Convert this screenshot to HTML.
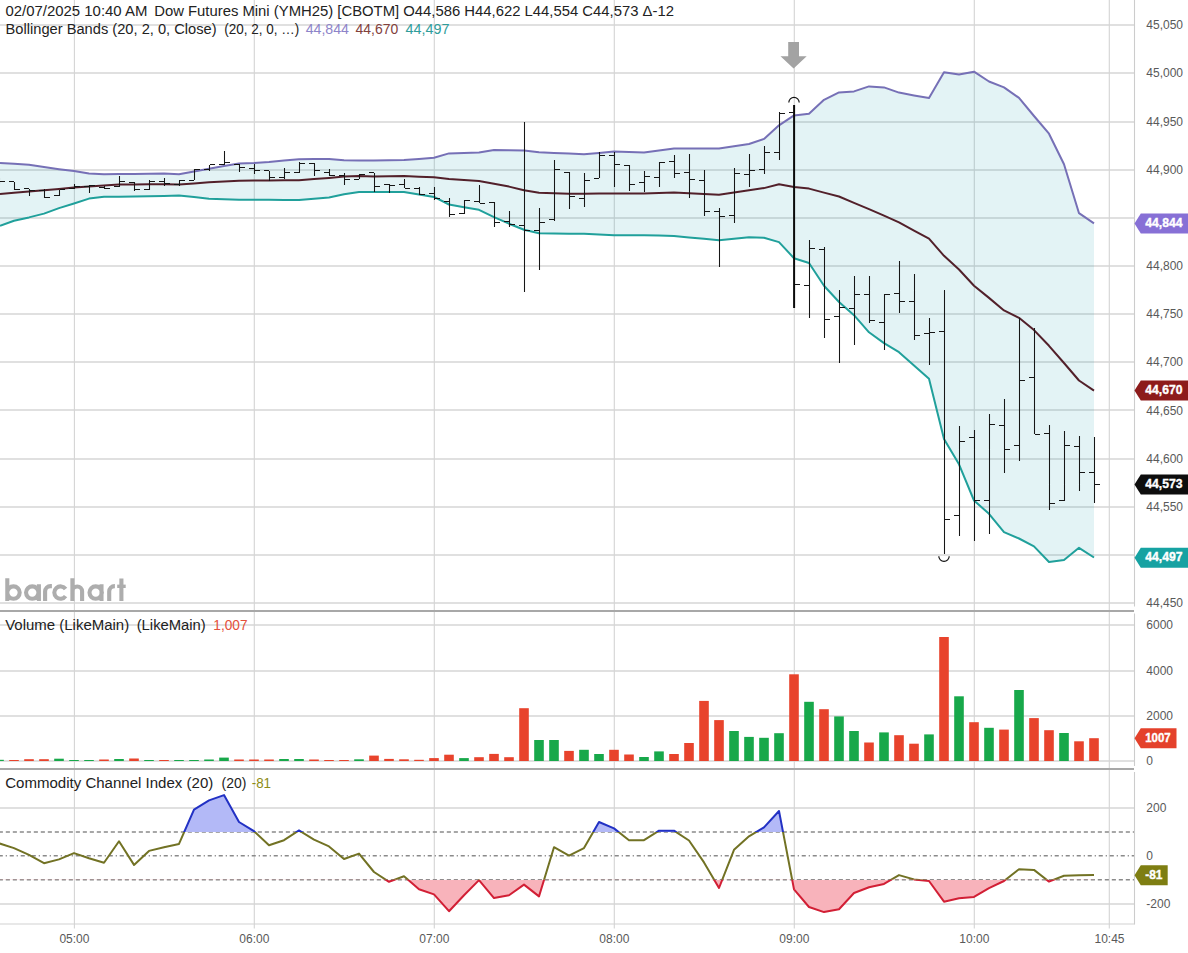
<!DOCTYPE html>
<html><head><meta charset="utf-8"><style>
html,body{margin:0;padding:0;background:#fff;width:1188px;height:953px;overflow:hidden}
</style></head><body>
<svg width="1188" height="953" viewBox="0 0 1188 953" style="display:block">
<rect width="1188" height="953" fill="#ffffff"/>
<rect x="0" y="24" width="1134" height="2" fill="#e0e0e0"/>
<rect x="0" y="72" width="1134" height="2" fill="#e0e0e0"/>
<rect x="0" y="121" width="1134" height="2" fill="#e0e0e0"/>
<rect x="0" y="169" width="1134" height="2" fill="#e0e0e0"/>
<rect x="0" y="217" width="1134" height="2" fill="#e0e0e0"/>
<rect x="0" y="265" width="1134" height="2" fill="#e0e0e0"/>
<rect x="0" y="313" width="1134" height="2" fill="#e0e0e0"/>
<rect x="0" y="361" width="1134" height="2" fill="#e0e0e0"/>
<rect x="0" y="409" width="1134" height="2" fill="#e0e0e0"/>
<rect x="0" y="458" width="1134" height="2" fill="#e0e0e0"/>
<rect x="0" y="506" width="1134" height="2" fill="#e0e0e0"/>
<rect x="0" y="554" width="1134" height="2" fill="#e0e0e0"/>
<rect x="0" y="602" width="1134" height="2" fill="#e0e0e0"/>
<rect x="0" y="624" width="1134" height="2" fill="#e0e0e0"/>
<rect x="0" y="670" width="1134" height="2" fill="#e0e0e0"/>
<rect x="0" y="715" width="1134" height="2" fill="#e0e0e0"/>
<rect x="0" y="760" width="1134" height="2" fill="#e0e0e0"/>
<rect x="0" y="807" width="1134" height="2" fill="#e0e0e0"/>
<rect x="0" y="903" width="1134" height="2" fill="#e0e0e0"/>
<line x1="74.4" y1="0" x2="74.4" y2="928.5" stroke="#d4d4d4" stroke-width="1.1"/>
<line x1="254.3" y1="0" x2="254.3" y2="928.5" stroke="#d4d4d4" stroke-width="1.1"/>
<line x1="434.3" y1="0" x2="434.3" y2="928.5" stroke="#d4d4d4" stroke-width="1.1"/>
<line x1="614.3" y1="0" x2="614.3" y2="928.5" stroke="#d4d4d4" stroke-width="1.1"/>
<line x1="794.3" y1="0" x2="794.3" y2="928.5" stroke="#d4d4d4" stroke-width="1.1"/>
<line x1="974.3" y1="0" x2="974.3" y2="928.5" stroke="#d4d4d4" stroke-width="1.1"/>
<line x1="1109.3" y1="0" x2="1109.3" y2="928.5" stroke="#d4d4d4" stroke-width="1.1"/>
<polygon points="0.0,162.9 14.0,163.7 29.0,164.8 44.0,167.0 59.0,169.2 74.0,171.1 89.0,173.5 104.0,174.3 119.0,173.9 134.0,173.9 149.0,173.7 164.0,173.5 179.0,174.3 194.0,171.6 209.0,168.8 224.0,166.1 239.0,163.4 254.0,162.9 269.0,161.9 284.0,160.5 299.0,159.2 314.0,159.1 329.0,158.9 344.0,160.2 359.0,160.5 374.0,160.4 389.0,160.2 404.0,160.0 419.0,158.9 434.0,157.8 449.0,153.4 464.0,152.9 479.0,152.5 494.0,150.0 509.0,150.3 524.0,150.6 539.0,152.3 554.0,152.9 569.0,153.5 584.0,154.3 599.0,152.9 614.0,151.5 629.0,152.0 644.0,152.5 659.0,150.4 674.0,148.4 689.0,148.4 704.0,148.4 719.0,148.4 734.0,146.2 749.0,144.0 764.0,138.9 779.0,125.3 794.0,115.4 809.0,113.7 824.0,99.8 839.0,92.4 854.0,91.4 869.0,86.4 884.0,87.4 899.0,92.6 914.0,95.4 929.0,97.9 944.0,72.3 959.0,74.4 974.0,71.7 989.0,81.5 1004.0,87.4 1019.0,97.9 1034.0,116.0 1049.0,133.7 1064.0,164.2 1079.0,213.2 1094.0,223.3 1094.0,557.5 1079.0,547.8 1064.0,560.0 1049.0,562.0 1034.0,546.4 1019.0,538.5 1004.0,532.2 989.0,513.8 974.0,500.5 959.0,464.3 944.0,439.0 929.0,378.7 914.0,365.4 899.0,352.2 884.0,343.1 869.0,332.3 854.0,315.2 839.0,302.0 824.0,285.8 809.0,263.0 794.0,258.2 779.0,242.1 764.0,237.7 749.0,237.2 734.0,238.8 719.0,240.3 704.0,238.8 689.0,237.4 674.0,235.9 659.0,235.6 644.0,235.3 629.0,235.3 614.0,235.3 599.0,234.5 584.0,233.7 569.0,233.7 554.0,233.5 539.0,233.3 524.0,229.7 509.0,223.7 494.0,217.1 479.0,209.8 464.0,207.2 449.0,204.5 434.0,196.9 419.0,194.4 404.0,191.9 389.0,192.0 374.0,192.1 359.0,192.0 344.0,194.3 329.0,197.4 314.0,198.7 299.0,200.0 284.0,199.9 269.0,199.8 254.0,199.7 239.0,199.7 224.0,199.2 209.0,198.7 194.0,197.1 179.0,195.6 164.0,196.0 149.0,196.3 134.0,196.6 119.0,196.7 104.0,196.8 89.0,198.6 74.0,203.5 59.0,208.1 44.0,213.6 29.0,217.4 14.0,220.7 0.0,225.8" fill="rgb(0,150,165)" fill-opacity="0.11"/>
<line x1="0" y1="831.9" x2="1134" y2="831.9" stroke="#8a8a8a" stroke-width="1.5" stroke-dasharray="4.1,2.9" stroke-dashoffset="1.2"/>
<line x1="0" y1="879.7" x2="1134" y2="879.7" stroke="#8a8a8a" stroke-width="1.5" stroke-dasharray="4.1,2.9" stroke-dashoffset="1.2"/>
<line x1="0" y1="855.8" x2="1134" y2="855.8" stroke="#8a8a8a" stroke-width="1.5" stroke-dasharray="4.1,2.9,1.2,2.8" stroke-dashoffset="1.3"/>
<polyline points="0.0,162.9 14.0,163.7 29.0,164.8 44.0,167.0 59.0,169.2 74.0,171.1 89.0,173.5 104.0,174.3 119.0,173.9 134.0,173.9 149.0,173.7 164.0,173.5 179.0,174.3 194.0,171.6 209.0,168.8 224.0,166.1 239.0,163.4 254.0,162.9 269.0,161.9 284.0,160.5 299.0,159.2 314.0,159.1 329.0,158.9 344.0,160.2 359.0,160.5 374.0,160.4 389.0,160.2 404.0,160.0 419.0,158.9 434.0,157.8 449.0,153.4 464.0,152.9 479.0,152.5 494.0,150.0 509.0,150.3 524.0,150.6 539.0,152.3 554.0,152.9 569.0,153.5 584.0,154.3 599.0,152.9 614.0,151.5 629.0,152.0 644.0,152.5 659.0,150.4 674.0,148.4 689.0,148.4 704.0,148.4 719.0,148.4 734.0,146.2 749.0,144.0 764.0,138.9 779.0,125.3 794.0,115.4 809.0,113.7 824.0,99.8 839.0,92.4 854.0,91.4 869.0,86.4 884.0,87.4 899.0,92.6 914.0,95.4 929.0,97.9 944.0,72.3 959.0,74.4 974.0,71.7 989.0,81.5 1004.0,87.4 1019.0,97.9 1034.0,116.0 1049.0,133.7 1064.0,164.2 1079.0,213.2 1094.0,223.3" fill="none" stroke="#7670b6" stroke-width="2" stroke-linejoin="round"/>
<polyline points="0.0,225.8 14.0,220.7 29.0,217.4 44.0,213.6 59.0,208.1 74.0,203.5 89.0,198.6 104.0,196.8 119.0,196.7 134.0,196.6 149.0,196.3 164.0,196.0 179.0,195.6 194.0,197.1 209.0,198.7 224.0,199.2 239.0,199.7 254.0,199.7 269.0,199.8 284.0,199.9 299.0,200.0 314.0,198.7 329.0,197.4 344.0,194.3 359.0,192.0 374.0,192.1 389.0,192.0 404.0,191.9 419.0,194.4 434.0,196.9 449.0,204.5 464.0,207.2 479.0,209.8 494.0,217.1 509.0,223.7 524.0,229.7 539.0,233.3 554.0,233.5 569.0,233.7 584.0,233.7 599.0,234.5 614.0,235.3 629.0,235.3 644.0,235.3 659.0,235.6 674.0,235.9 689.0,237.4 704.0,238.8 719.0,240.3 734.0,238.8 749.0,237.2 764.0,237.7 779.0,242.1 794.0,258.2 809.0,263.0 824.0,285.8 839.0,302.0 854.0,315.2 869.0,332.3 884.0,343.1 899.0,352.2 914.0,365.4 929.0,378.7 944.0,439.0 959.0,464.3 974.0,500.5 989.0,513.8 1004.0,532.2 1019.0,538.5 1034.0,546.4 1049.0,562.0 1064.0,560.0 1079.0,547.8 1094.0,557.5" fill="none" stroke="#20a09b" stroke-width="2" stroke-linejoin="round"/>
<polyline points="0.0,193.9 14.0,192.7 29.0,191.4 44.0,190.2 59.0,188.9 74.0,187.6 89.0,186.6 104.0,185.5 119.0,184.5 134.0,184.4 149.0,184.3 164.0,184.2 179.0,184.4 194.0,183.4 209.0,182.3 224.0,181.5 239.0,180.7 254.0,180.6 269.0,180.4 284.0,180.3 299.0,180.2 314.0,179.1 329.0,177.9 344.0,176.6 359.0,176.0 374.0,176.4 389.0,176.3 404.0,176.1 419.0,176.7 434.0,177.3 449.0,179.0 464.0,180.1 479.0,181.1 494.0,183.7 509.0,186.6 524.0,190.2 539.0,192.8 554.0,193.3 569.0,193.8 584.0,193.7 599.0,193.5 614.0,193.4 629.0,193.5 644.0,193.6 659.0,193.1 674.0,192.5 689.0,193.2 704.0,194.0 719.0,194.7 734.0,192.5 749.0,190.3 764.0,188.1 779.0,184.3 794.0,187.0 809.0,188.6 824.0,192.6 839.0,196.5 854.0,202.8 869.0,209.1 884.0,215.7 899.0,222.4 914.0,230.6 929.0,238.7 944.0,255.8 959.0,269.5 974.0,285.7 989.0,297.9 1004.0,310.4 1019.0,317.8 1034.0,330.1 1049.0,345.8 1064.0,363.0 1079.0,380.5 1094.0,390.6" fill="none" stroke="#52202a" stroke-width="2" stroke-linejoin="round"/>
<path d="M794.1,105V308" stroke="#0a0a0a" stroke-width="2" fill="none"/>
<path d="M-0.5,178V184M-6,182.5H-1M0,181.5H5M14.5,182V190M9,181.5H14M15,189.5H20M29.5,189V196M24,188.5H29M30,190.5H35M44.5,189V198M39,190.5H44M45,197.5H50M59.5,190V196M54,195.5H59M60,189.5H65M74.5,184V189M69,188.5H74M75,186.5H80M89.5,185V193M84,186.5H89M90,185.5H95M104.5,186V189M99,187.5H104M105,188.5H110M119.5,176V187M114,186.5H119M120,181.5H125M134.5,182V191M129,182.5H134M135,189.5H140M149.5,180V190M144,189.5H149M150,181.5H155M164.5,178V186M159,181.5H164M165,183.5H170M179.5,180V186M174,184.5H179M180,180.5H185M194.5,169V180M189,180.5H194M195,169.5H200M209.5,165V171M204,169.5H209M210,164.5H215M224.5,151V165M219,164.5H224M225,162.5H230M239.5,164V172M234,164.5H239M240,167.5H245M254.5,164V174M249,168.5H254M255,170.5H260M269.5,171V181M264,170.5H269M270,177.5H275M284.5,168V179M279,177.5H284M285,172.5H290M299.5,162V173M294,172.5H299M300,163.5H305M314.5,163V176M309,163.5H314M315,170.5H320M329.5,169V176M324,172.5H329M330,175.5H335M344.5,173V185M339,175.5H344M345,179.5H350M359.5,174V179M354,179.5H359M360,174.5H365M374.5,173V192M369,172.5H374M375,186.5H380M389.5,184V193M384,184.5H389M390,185.5H395M404.5,179V188M399,184.5H404M405,188.5H410M419.5,187V195M414,188.5H419M420,194.5H425M434.5,187V200M429,193.5H434M435,198.5H440M449.5,198V217M444,201.5H449M450,214.5H455M464.5,200V214M459,213.5H464M465,200.5H470M479.5,185V203M474,201.5H479M480,203.5H485M494.5,202V227M489,202.5H494M495,222.5H500M509.5,211V227M504,221.5H509M510,224.5H515M524.5,122V292M519,225.5H524M525,230.5H530M539.5,208V270M534,230.5H539M540,222.5H545M554.5,160V221M549,219.5H554M555,169.5H560M569.5,172V209M564,172.5H569M570,196.5H575M584.5,173V207M579,198.5H584M585,180.5H590M599.5,152V178M594,178.5H599M600,155.5H605M614.5,152V187M609,155.5H614M615,164.5H620M629.5,165V191M624,165.5H629M630,184.5H635M644.5,171V192M639,182.5H644M645,176.5H650M659.5,162V187M654,177.5H659M660,162.5H665M674.5,155V178M669,161.5H674M675,173.5H680M689.5,154V198M684,172.5H689M690,179.5H695M704.5,170V216M699,180.5H704M705,211.5H710M719.5,208V267M714,211.5H719M720,216.5H725M734.5,168V223M729,215.5H734M735,173.5H740M749.5,154V187M744,174.5H749M750,170.5H755M764.5,146V174M759,169.5H764M765,152.5H770M779.5,112V160M774,152.5H779M780,113.5H785M789,112.5H794M795,284.5H800M809.5,240V318M804,285.5H809M810,248.5H815M824.5,247V338M819,249.5H824M825,319.5H830M839.5,290V363M834,316.5H839M840,307.5H845M854.5,276V345M849,308.5H854M855,294.5H860M869.5,276V323M864,294.5H869M870,320.5H875M884.5,294V350M879,322.5H884M885,294.5H890M899.5,261V313M894,293.5H899M900,301.5H905M914.5,274V340M909,301.5H914M915,335.5H920M929.5,318V365M924,333.5H929M930,332.5H935M944.5,290V554M939,331.5H944M945,519.5H950M959.5,426V536M954,515.5H959M960,441.5H965M974.5,430V541M969,437.5H974M975,500.5H980M989.5,414V534M984,500.5H989M990,424.5H995M1004.5,399V473M999,425.5H1004M1005,449.5H1010M1019.5,318V461M1014,445.5H1019M1020,380.5H1025M1034.5,328V434M1029,377.5H1034M1035,434.5H1040M1049.5,425V510M1044,433.5H1049M1050,503.5H1055M1064.5,431V501M1059,500.5H1064M1065,445.5H1070M1079.5,436V491M1074,446.5H1079M1080,472.5H1085M1094.5,437V503M1089,472.5H1094M1095,484.5H1100" stroke="#161616" stroke-width="1.05" fill="none"/>
<path d="M788.8,102.6 A5.2,5.2 0 0 1 799.2,102.6" fill="none" stroke="#111" stroke-width="1.2"/>
<path d="M938.8,556.2 A5.2,5.2 0 0 0 949.2,556.2" fill="none" stroke="#111" stroke-width="1.2"/>
<path d="M788.2,42 H799 V56.2 H806.7 L793.6,68.5 L780.5,56.2 H788.2 Z" fill="#a3a3a3"/>
<path d="M7.3,578.2V601 M13.5,592.6m-6.2,0a6.2,6.2 0 1,0 12.4,0a6.2,6.2 0 1,0 -12.4,0 M32.25,592.6m-6.2,0a6.2,6.2 0 1,0 12.4,0a6.2,6.2 0 1,0 -12.4,0 M38.9,584.3V601 M45.1,601V591.5A5.4,5.4 0 0 1 50.5,586.1H51.9 M65.58,589.04A6.2,6.2 0 1 0 65.58,596.16 M72.4,578.2V601 M72.4,601V591.35A4.85,4.85 0 0 1 82.1,591.35V601 M95.7,592.6m-6.2,0a6.2,6.2 0 1,0 12.4,0a6.2,6.2 0 1,0 -12.4,0 M101.5,584.3V601 M109.2,601V591.5A5.4,5.4 0 0 1 114.6,586.1H114.9 M121.4,578.5V601" fill="none" stroke="#adadad" stroke-width="4.1"/>
<path d="M117.2,586.3H125.7" fill="none" stroke="#adadad" stroke-width="3.4"/>
<rect x="0" y="610" width="1134" height="2" fill="#a8a8a8"/>
<rect x="0" y="768" width="1134" height="2" fill="#a8a8a8"/>
<line x1="0" y1="924" x2="1134.5" y2="924" stroke="#d2d2d2" stroke-width="1.2"/>
<path d="M1134.5,0V606.5M1134.5,613.5V766M1134.5,772V924.5" stroke="#cccccc" stroke-width="1.1"/>
<rect x="-5.8" y="759.8" width="9.6" height="1.2" fill="#17a84a"/>
<rect x="9.2" y="760.0" width="9.6" height="1.0" fill="#e8432c"/>
<rect x="24.2" y="759.2" width="9.6" height="1.8" fill="#e8432c"/>
<rect x="39.2" y="759.2" width="9.6" height="1.8" fill="#e8432c"/>
<rect x="54.2" y="758.7" width="9.6" height="2.3" fill="#17a84a"/>
<rect x="69.2" y="760.0" width="9.6" height="1.0" fill="#17a84a"/>
<rect x="84.2" y="760.0" width="9.6" height="1.0" fill="#17a84a"/>
<rect x="99.2" y="759.5" width="9.6" height="1.5" fill="#e8432c"/>
<rect x="114.2" y="759.0" width="9.6" height="2.0" fill="#17a84a"/>
<rect x="129.2" y="758.5" width="9.6" height="2.5" fill="#e8432c"/>
<rect x="144.2" y="760.0" width="9.6" height="1.0" fill="#17a84a"/>
<rect x="159.2" y="760.0" width="9.6" height="1.0" fill="#e8432c"/>
<rect x="174.2" y="760.0" width="9.6" height="1.0" fill="#17a84a"/>
<rect x="189.2" y="760.0" width="9.6" height="1.0" fill="#17a84a"/>
<rect x="204.2" y="759.5" width="9.6" height="1.5" fill="#17a84a"/>
<rect x="219.2" y="757.6" width="9.6" height="3.4" fill="#17a84a"/>
<rect x="234.2" y="759.5" width="9.6" height="1.5" fill="#e8432c"/>
<rect x="249.2" y="759.5" width="9.6" height="1.5" fill="#e8432c"/>
<rect x="264.2" y="759.5" width="9.6" height="1.5" fill="#e8432c"/>
<rect x="279.2" y="759.0" width="9.6" height="2.0" fill="#17a84a"/>
<rect x="294.2" y="759.0" width="9.6" height="2.0" fill="#17a84a"/>
<rect x="309.2" y="759.5" width="9.6" height="1.5" fill="#e8432c"/>
<rect x="324.2" y="760.0" width="9.6" height="1.0" fill="#e8432c"/>
<rect x="339.2" y="760.0" width="9.6" height="1.0" fill="#e8432c"/>
<rect x="354.2" y="759.3" width="9.6" height="1.7" fill="#17a84a"/>
<rect x="369.2" y="755.6" width="9.6" height="5.4" fill="#e8432c"/>
<rect x="384.2" y="758.9" width="9.6" height="2.1" fill="#e8432c"/>
<rect x="399.2" y="759.3" width="9.6" height="1.7" fill="#e8432c"/>
<rect x="414.2" y="759.8" width="9.6" height="1.2" fill="#e8432c"/>
<rect x="429.2" y="758.1" width="9.6" height="2.9" fill="#e8432c"/>
<rect x="444.2" y="754.7" width="9.6" height="6.3" fill="#e8432c"/>
<rect x="459.2" y="758.1" width="9.6" height="2.9" fill="#17a84a"/>
<rect x="474.2" y="757.2" width="9.6" height="3.8" fill="#e8432c"/>
<rect x="489.2" y="753.9" width="9.6" height="7.1" fill="#e8432c"/>
<rect x="504.2" y="757.2" width="9.6" height="3.8" fill="#e8432c"/>
<rect x="519.2" y="708.2" width="9.6" height="52.8" fill="#e8432c"/>
<rect x="534.2" y="740.0" width="9.6" height="21.0" fill="#17a84a"/>
<rect x="549.2" y="740.0" width="9.6" height="21.0" fill="#17a84a"/>
<rect x="564.2" y="750.9" width="9.6" height="10.1" fill="#e8432c"/>
<rect x="579.2" y="749.8" width="9.6" height="11.2" fill="#17a84a"/>
<rect x="594.2" y="754.0" width="9.6" height="7.0" fill="#17a84a"/>
<rect x="609.2" y="749.8" width="9.6" height="11.2" fill="#e8432c"/>
<rect x="624.2" y="754.5" width="9.6" height="6.5" fill="#e8432c"/>
<rect x="639.2" y="757.0" width="9.6" height="4.0" fill="#17a84a"/>
<rect x="654.2" y="751.4" width="9.6" height="9.6" fill="#17a84a"/>
<rect x="669.2" y="754.0" width="9.6" height="7.0" fill="#e8432c"/>
<rect x="684.2" y="743.0" width="9.6" height="18.0" fill="#e8432c"/>
<rect x="699.2" y="700.9" width="9.6" height="60.1" fill="#e8432c"/>
<rect x="714.2" y="720.1" width="9.6" height="40.9" fill="#e8432c"/>
<rect x="729.2" y="731.0" width="9.6" height="30.0" fill="#17a84a"/>
<rect x="744.2" y="736.9" width="9.6" height="24.1" fill="#17a84a"/>
<rect x="759.2" y="737.8" width="9.6" height="23.2" fill="#17a84a"/>
<rect x="774.2" y="733.2" width="9.6" height="27.8" fill="#17a84a"/>
<rect x="789.2" y="674.3" width="9.6" height="86.7" fill="#e8432c"/>
<rect x="804.2" y="701.8" width="9.6" height="59.2" fill="#17a84a"/>
<rect x="819.2" y="709.2" width="9.6" height="51.8" fill="#e8432c"/>
<rect x="834.2" y="716.4" width="9.6" height="44.6" fill="#17a84a"/>
<rect x="849.2" y="731.0" width="9.6" height="30.0" fill="#17a84a"/>
<rect x="864.2" y="742.5" width="9.6" height="18.5" fill="#e8432c"/>
<rect x="879.2" y="732.4" width="9.6" height="28.6" fill="#17a84a"/>
<rect x="894.2" y="735.2" width="9.6" height="25.8" fill="#e8432c"/>
<rect x="909.2" y="743.7" width="9.6" height="17.3" fill="#e8432c"/>
<rect x="924.2" y="734.4" width="9.6" height="26.6" fill="#17a84a"/>
<rect x="939.2" y="637.0" width="9.6" height="124.0" fill="#e8432c"/>
<rect x="954.2" y="696.3" width="9.6" height="64.7" fill="#17a84a"/>
<rect x="969.2" y="722.2" width="9.6" height="38.8" fill="#e8432c"/>
<rect x="984.2" y="727.8" width="9.6" height="33.2" fill="#17a84a"/>
<rect x="999.2" y="729.6" width="9.6" height="31.4" fill="#e8432c"/>
<rect x="1014.2" y="690.0" width="9.6" height="71.0" fill="#17a84a"/>
<rect x="1029.2" y="718.1" width="9.6" height="42.9" fill="#e8432c"/>
<rect x="1044.2" y="730.2" width="9.6" height="30.8" fill="#e8432c"/>
<rect x="1059.2" y="733.0" width="9.6" height="28.0" fill="#17a84a"/>
<rect x="1074.2" y="741.3" width="9.6" height="19.7" fill="#e8432c"/>
<rect x="1089.2" y="738.2" width="9.6" height="22.8" fill="#e8432c"/>
<defs><clipPath id="cAbove"><rect x="0" y="780" width="1134" height="51.9"/></clipPath><clipPath id="cBelow"><rect x="0" y="879.7" width="1134" height="44.3"/></clipPath><clipPath id="cMid"><rect x="0" y="831.9" width="1134" height="47.8"/></clipPath></defs>
<polygon points="-1.0,843.3 14.0,848.1 29.0,854.8 44.0,863.2 59.0,859.4 74.0,853.1 89.0,858.2 104.0,862.7 119.0,841.3 134.0,864.9 149.0,850.9 164.0,847.2 179.0,843.9 194.0,809.6 209.0,800.4 224.0,795.1 239.0,822.0 254.0,831.2 269.0,845.2 284.0,840.2 299.0,830.4 314.0,839.7 329.0,846.4 344.0,859.0 359.0,853.6 374.0,872.0 389.0,881.8 404.0,876.2 419.0,889.3 434.0,894.4 449.0,911.2 464.0,895.2 479.0,880.1 494.0,898.1 509.0,895.2 524.0,884.6 539.0,896.4 554.0,847.2 569.0,855.7 584.0,848.1 599.0,822.0 614.0,828.4 629.0,840.2 644.0,840.2 659.0,830.7 674.0,830.7 689.0,840.5 704.0,862.4 719.0,888.0 734.0,849.8 749.0,836.3 764.0,827.4 779.0,811.0 794.0,889.3 809.0,907.0 824.0,912.1 839.0,909.2 854.0,893.0 869.0,887.3 884.0,883.9 899.0,875.1 914.0,879.4 929.0,881.0 944.0,901.7 959.0,898.2 974.0,896.9 989.0,888.1 1004.0,881.0 1019.0,869.2 1034.0,869.9 1049.0,881.6 1064.0,875.7 1079.0,875.2 1094.0,874.9 1094,831.9 -1,831.9" fill="#b3b9f7" clip-path="url(#cAbove)"/>
<polygon points="-1.0,843.3 14.0,848.1 29.0,854.8 44.0,863.2 59.0,859.4 74.0,853.1 89.0,858.2 104.0,862.7 119.0,841.3 134.0,864.9 149.0,850.9 164.0,847.2 179.0,843.9 194.0,809.6 209.0,800.4 224.0,795.1 239.0,822.0 254.0,831.2 269.0,845.2 284.0,840.2 299.0,830.4 314.0,839.7 329.0,846.4 344.0,859.0 359.0,853.6 374.0,872.0 389.0,881.8 404.0,876.2 419.0,889.3 434.0,894.4 449.0,911.2 464.0,895.2 479.0,880.1 494.0,898.1 509.0,895.2 524.0,884.6 539.0,896.4 554.0,847.2 569.0,855.7 584.0,848.1 599.0,822.0 614.0,828.4 629.0,840.2 644.0,840.2 659.0,830.7 674.0,830.7 689.0,840.5 704.0,862.4 719.0,888.0 734.0,849.8 749.0,836.3 764.0,827.4 779.0,811.0 794.0,889.3 809.0,907.0 824.0,912.1 839.0,909.2 854.0,893.0 869.0,887.3 884.0,883.9 899.0,875.1 914.0,879.4 929.0,881.0 944.0,901.7 959.0,898.2 974.0,896.9 989.0,888.1 1004.0,881.0 1019.0,869.2 1034.0,869.9 1049.0,881.6 1064.0,875.7 1079.0,875.2 1094.0,874.9 1094,879.7 -1,879.7" fill="#f8b3bb" clip-path="url(#cBelow)"/>
<polyline points="-1.0,843.3 14.0,848.1 29.0,854.8 44.0,863.2 59.0,859.4 74.0,853.1 89.0,858.2 104.0,862.7 119.0,841.3 134.0,864.9 149.0,850.9 164.0,847.2 179.0,843.9 194.0,809.6 209.0,800.4 224.0,795.1 239.0,822.0 254.0,831.2 269.0,845.2 284.0,840.2 299.0,830.4 314.0,839.7 329.0,846.4 344.0,859.0 359.0,853.6 374.0,872.0 389.0,881.8 404.0,876.2 419.0,889.3 434.0,894.4 449.0,911.2 464.0,895.2 479.0,880.1 494.0,898.1 509.0,895.2 524.0,884.6 539.0,896.4 554.0,847.2 569.0,855.7 584.0,848.1 599.0,822.0 614.0,828.4 629.0,840.2 644.0,840.2 659.0,830.7 674.0,830.7 689.0,840.5 704.0,862.4 719.0,888.0 734.0,849.8 749.0,836.3 764.0,827.4 779.0,811.0 794.0,889.3 809.0,907.0 824.0,912.1 839.0,909.2 854.0,893.0 869.0,887.3 884.0,883.9 899.0,875.1 914.0,879.4 929.0,881.0 944.0,901.7 959.0,898.2 974.0,896.9 989.0,888.1 1004.0,881.0 1019.0,869.2 1034.0,869.9 1049.0,881.6 1064.0,875.7 1079.0,875.2 1094.0,874.9" fill="none" stroke="#727224" stroke-width="2" stroke-linejoin="round" clip-path="url(#cMid)"/>
<polyline points="-1.0,843.3 14.0,848.1 29.0,854.8 44.0,863.2 59.0,859.4 74.0,853.1 89.0,858.2 104.0,862.7 119.0,841.3 134.0,864.9 149.0,850.9 164.0,847.2 179.0,843.9 194.0,809.6 209.0,800.4 224.0,795.1 239.0,822.0 254.0,831.2 269.0,845.2 284.0,840.2 299.0,830.4 314.0,839.7 329.0,846.4 344.0,859.0 359.0,853.6 374.0,872.0 389.0,881.8 404.0,876.2 419.0,889.3 434.0,894.4 449.0,911.2 464.0,895.2 479.0,880.1 494.0,898.1 509.0,895.2 524.0,884.6 539.0,896.4 554.0,847.2 569.0,855.7 584.0,848.1 599.0,822.0 614.0,828.4 629.0,840.2 644.0,840.2 659.0,830.7 674.0,830.7 689.0,840.5 704.0,862.4 719.0,888.0 734.0,849.8 749.0,836.3 764.0,827.4 779.0,811.0 794.0,889.3 809.0,907.0 824.0,912.1 839.0,909.2 854.0,893.0 869.0,887.3 884.0,883.9 899.0,875.1 914.0,879.4 929.0,881.0 944.0,901.7 959.0,898.2 974.0,896.9 989.0,888.1 1004.0,881.0 1019.0,869.2 1034.0,869.9 1049.0,881.6 1064.0,875.7 1079.0,875.2 1094.0,874.9" fill="none" stroke="#2231c4" stroke-width="2" stroke-linejoin="round" clip-path="url(#cAbove)"/>
<polyline points="-1.0,843.3 14.0,848.1 29.0,854.8 44.0,863.2 59.0,859.4 74.0,853.1 89.0,858.2 104.0,862.7 119.0,841.3 134.0,864.9 149.0,850.9 164.0,847.2 179.0,843.9 194.0,809.6 209.0,800.4 224.0,795.1 239.0,822.0 254.0,831.2 269.0,845.2 284.0,840.2 299.0,830.4 314.0,839.7 329.0,846.4 344.0,859.0 359.0,853.6 374.0,872.0 389.0,881.8 404.0,876.2 419.0,889.3 434.0,894.4 449.0,911.2 464.0,895.2 479.0,880.1 494.0,898.1 509.0,895.2 524.0,884.6 539.0,896.4 554.0,847.2 569.0,855.7 584.0,848.1 599.0,822.0 614.0,828.4 629.0,840.2 644.0,840.2 659.0,830.7 674.0,830.7 689.0,840.5 704.0,862.4 719.0,888.0 734.0,849.8 749.0,836.3 764.0,827.4 779.0,811.0 794.0,889.3 809.0,907.0 824.0,912.1 839.0,909.2 854.0,893.0 869.0,887.3 884.0,883.9 899.0,875.1 914.0,879.4 929.0,881.0 944.0,901.7 959.0,898.2 974.0,896.9 989.0,888.1 1004.0,881.0 1019.0,869.2 1034.0,869.9 1049.0,881.6 1064.0,875.7 1079.0,875.2 1094.0,874.9" fill="none" stroke="#d21f35" stroke-width="2" stroke-linejoin="round" clip-path="url(#cBelow)"/>
<text x="1146.3" y="29.2" font-family="'Liberation Sans', sans-serif" font-size="12" fill="#595959">45,050</text>
<text x="1146.3" y="77.4" font-family="'Liberation Sans', sans-serif" font-size="12" fill="#595959">45,000</text>
<text x="1146.3" y="125.5" font-family="'Liberation Sans', sans-serif" font-size="12" fill="#595959">44,950</text>
<text x="1146.3" y="173.7" font-family="'Liberation Sans', sans-serif" font-size="12" fill="#595959">44,900</text>
<text x="1146.3" y="270.0" font-family="'Liberation Sans', sans-serif" font-size="12" fill="#595959">44,800</text>
<text x="1146.3" y="318.2" font-family="'Liberation Sans', sans-serif" font-size="12" fill="#595959">44,750</text>
<text x="1146.3" y="366.4" font-family="'Liberation Sans', sans-serif" font-size="12" fill="#595959">44,700</text>
<text x="1146.3" y="414.5" font-family="'Liberation Sans', sans-serif" font-size="12" fill="#595959">44,650</text>
<text x="1146.3" y="462.7" font-family="'Liberation Sans', sans-serif" font-size="12" fill="#595959">44,600</text>
<text x="1146.3" y="510.9" font-family="'Liberation Sans', sans-serif" font-size="12" fill="#595959">44,550</text>
<text x="1146.3" y="607.2" font-family="'Liberation Sans', sans-serif" font-size="12" fill="#595959">44,450</text>
<text x="1146.3" y="629.2" font-family="'Liberation Sans', sans-serif" font-size="12" fill="#595959">6000</text>
<text x="1146.3" y="674.6" font-family="'Liberation Sans', sans-serif" font-size="12" fill="#595959">4000</text>
<text x="1146.3" y="719.9" font-family="'Liberation Sans', sans-serif" font-size="12" fill="#595959">2000</text>
<text x="1146.3" y="765.2" font-family="'Liberation Sans', sans-serif" font-size="12" fill="#595959">0</text>
<text x="1146.3" y="812.0" font-family="'Liberation Sans', sans-serif" font-size="12" fill="#595959">200</text>
<text x="1146.3" y="860.0" font-family="'Liberation Sans', sans-serif" font-size="12" fill="#595959">0</text>
<text x="1146.3" y="908.1" font-family="'Liberation Sans', sans-serif" font-size="12" fill="#595959">-200</text>
<path d="M1134.5,223.6 L1140.8,213.6 H1188 V233.6 H1140.8 Z" fill="#8770d6"/>
<text x="1145.2" y="227.1" font-family="'Liberation Sans', sans-serif" font-weight="bold" font-size="12" fill="#ffffff" stroke="#ffffff" stroke-width="0.35" textLength="37.3" lengthAdjust="spacingAndGlyphs">44,844</text>
<path d="M1134.5,390.5 L1140.8,380.5 H1188 V400.5 H1140.8 Z" fill="#8d1b1b"/>
<text x="1145.2" y="394.0" font-family="'Liberation Sans', sans-serif" font-weight="bold" font-size="12" fill="#ffffff" stroke="#ffffff" stroke-width="0.35" textLength="37.3" lengthAdjust="spacingAndGlyphs">44,670</text>
<path d="M1134.5,484.6 L1140.8,474.6 H1188 V494.6 H1140.8 Z" fill="#0d0d0d"/>
<text x="1145.2" y="488.1" font-family="'Liberation Sans', sans-serif" font-weight="bold" font-size="12" fill="#ffffff" stroke="#ffffff" stroke-width="0.35" textLength="37.3" lengthAdjust="spacingAndGlyphs">44,573</text>
<path d="M1134.5,557.7 L1140.8,547.7 H1188 V567.7 H1140.8 Z" fill="#16a2a2"/>
<text x="1145.2" y="561.2" font-family="'Liberation Sans', sans-serif" font-weight="bold" font-size="12" fill="#ffffff" stroke="#ffffff" stroke-width="0.35" textLength="37.3" lengthAdjust="spacingAndGlyphs">44,497</text>
<path d="M1134.5,738.2 L1140.8,728.2 H1176.5 V748.2 H1140.8 Z" fill="#e4412b"/>
<text x="1145.2" y="741.7" font-family="'Liberation Sans', sans-serif" font-weight="bold" font-size="12" fill="#ffffff" stroke="#ffffff" stroke-width="0.35" textLength="25.5" lengthAdjust="spacingAndGlyphs">1007</text>
<path d="M1134.5,875.3 L1140.8,865.3 H1167.7 V885.3 H1140.8 Z" fill="#7e7e12"/>
<text x="1145.2" y="878.8" font-family="'Liberation Sans', sans-serif" font-weight="bold" font-size="12" fill="#ffffff" stroke="#ffffff" stroke-width="0.35" textLength="17.3" lengthAdjust="spacingAndGlyphs">-81</text>
<text x="74.4" y="943" text-anchor="middle" font-family="'Liberation Sans', sans-serif" font-size="12" fill="#595959">05:00</text>
<text x="254.3" y="943" text-anchor="middle" font-family="'Liberation Sans', sans-serif" font-size="12" fill="#595959">06:00</text>
<text x="434.3" y="943" text-anchor="middle" font-family="'Liberation Sans', sans-serif" font-size="12" fill="#595959">07:00</text>
<text x="614.3" y="943" text-anchor="middle" font-family="'Liberation Sans', sans-serif" font-size="12" fill="#595959">08:00</text>
<text x="794.3" y="943" text-anchor="middle" font-family="'Liberation Sans', sans-serif" font-size="12" fill="#595959">09:00</text>
<text x="974.3" y="943" text-anchor="middle" font-family="'Liberation Sans', sans-serif" font-size="12" fill="#595959">10:00</text>
<text x="1109.5" y="943" text-anchor="middle" font-family="'Liberation Sans', sans-serif" font-size="12" fill="#595959">10:45</text>
<text x="5.4" y="15.7" font-family="'Liberation Sans', sans-serif" font-size="14" fill="#222222" textLength="142.0" lengthAdjust="spacingAndGlyphs">02/07/2025 10:40 AM</text>
<text x="154.2" y="15.7" font-family="'Liberation Sans', sans-serif" font-size="14" fill="#222222" textLength="519.8" lengthAdjust="spacingAndGlyphs">Dow Futures Mini (YMH25) [CBOTM] O44,586 H44,622 L44,554 C44,573 Δ-12</text>
<text x="5.6" y="33.7" font-family="'Liberation Sans', sans-serif" font-size="14" fill="#222222" textLength="211.0" lengthAdjust="spacingAndGlyphs">Bollinger Bands (20, 2, 0, Close)</text>
<text x="224.3" y="33.7" font-family="'Liberation Sans', sans-serif" font-size="14" fill="#222222" textLength="75.0" lengthAdjust="spacingAndGlyphs">(20, 2, 0, …)</text>
<text x="305.7" y="33.7" font-family="'Liberation Sans', sans-serif" font-size="14" fill="#8d84c9" textLength="43.3" lengthAdjust="spacingAndGlyphs">44,844</text>
<text x="355.6" y="33.7" font-family="'Liberation Sans', sans-serif" font-size="14" fill="#82403c" textLength="42.7" lengthAdjust="spacingAndGlyphs">44,670</text>
<text x="405.6" y="33.7" font-family="'Liberation Sans', sans-serif" font-size="14" fill="#2f9d9b" textLength="43.9" lengthAdjust="spacingAndGlyphs">44,497</text>
<text x="5.2" y="629.7" font-family="'Liberation Sans', sans-serif" font-size="14" fill="#222222" textLength="124.0" lengthAdjust="spacingAndGlyphs">Volume (LikeMain)</text>
<text x="136.7" y="629.7" font-family="'Liberation Sans', sans-serif" font-size="14" fill="#222222" textLength="69.1" lengthAdjust="spacingAndGlyphs">(LikeMain)</text>
<text x="213.3" y="629.7" font-family="'Liberation Sans', sans-serif" font-size="14" fill="#e4503a" textLength="34.2" lengthAdjust="spacingAndGlyphs">1,007</text>
<text x="5.2" y="788.4" font-family="'Liberation Sans', sans-serif" font-size="14" fill="#222222" textLength="208.1" lengthAdjust="spacingAndGlyphs">Commodity Channel Index (20)</text>
<text x="221.5" y="788.4" font-family="'Liberation Sans', sans-serif" font-size="14" fill="#222222" textLength="24.8" lengthAdjust="spacingAndGlyphs">(20)</text>
<text x="251.7" y="788.4" font-family="'Liberation Sans', sans-serif" font-size="14" fill="#8c8c14" textLength="19.3" lengthAdjust="spacingAndGlyphs">-81</text>
</svg>
</body></html>
